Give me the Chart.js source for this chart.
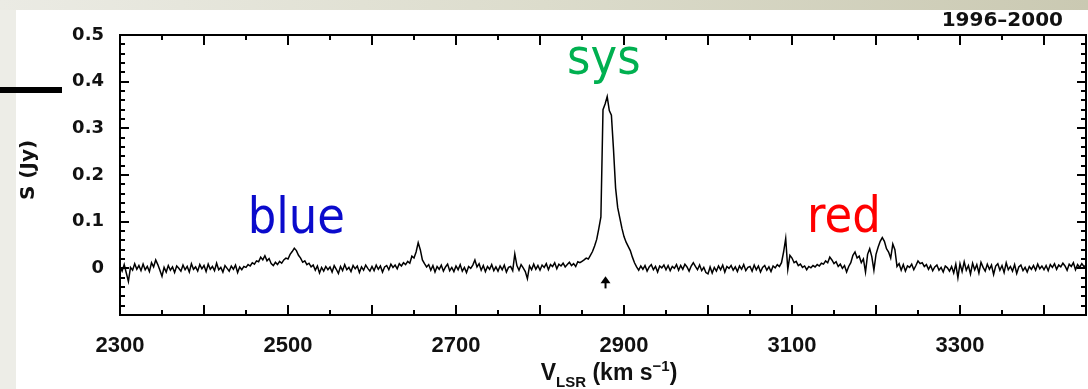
<!DOCTYPE html>
<html>
<head>
<meta charset="utf-8">
<script src="https://cdn.jsdelivr.net/npm/chart.js@4/dist/chart.umd.min.js"></script>
<style>
  html, body { margin: 0; padding: 0; background: #fff; }
  #wrap { width: 1088px; height: 389px; }
</style>
</head>
<body>
<div id="wrap"><canvas id="spectrum" width="1088" height="389"></canvas></div>
<script>
// channel grid of the spectrum (km/s)
const V_START = 2300;
const V_STEP = 2.5;

// flux density S (Jy), one value per channel
const flux = [
  0.004, -0.006, 0.008, -0.010, -0.028, 0.002, -0.004, 0.010, -0.002, 0.006, -0.005, 0.009, -0.003, 0.004, -0.007, 0.012, 0.003, 0.018, 0.008, -0.004,
  -0.017, 0.002, -0.008, 0.006, -0.004, 0.003, -0.009, 0.005, 0.000, -0.006, 0.007, -0.003, 0.004, -0.008, 0.010, -0.002, 0.003, -0.006, 0.008, -0.001,
  0.006, -0.007, 0.009, -0.002, 0.004, -0.005, 0.011, -0.003, 0.002, -0.008, 0.006, 0.000, -0.006, 0.005, -0.002, 0.007, -0.009, 0.003, -0.003, 0.004,
  0.002, 0.008, 0.005, 0.012, 0.009, 0.016, 0.014, 0.024, 0.018, 0.027, 0.016, 0.021, 0.010, 0.006, 0.013, 0.008, 0.015, 0.011, 0.018, 0.022,
  0.020, 0.030, 0.036, 0.043, 0.038, 0.028, 0.022, 0.013, 0.016, 0.008, 0.011, 0.003, 0.007, -0.004, 0.005, -0.010, 0.002, -0.006, 0.004, -0.003,
  0.003, -0.008, 0.006, -0.002, -0.011, 0.004, -0.005, 0.008, -0.003, 0.002, -0.007, 0.006, -0.001, 0.005, -0.009, 0.003, -0.004, 0.007, 0.000, -0.006,
  0.004, -0.005, 0.007, -0.002, 0.005, -0.008, 0.003, 0.006, -0.003, 0.009, 0.002, 0.007, -0.001, 0.010, 0.005, 0.012, 0.008, 0.015, 0.011, 0.026,
  0.022, 0.035, 0.055, 0.040, 0.018, 0.010, 0.003, 0.008, -0.004, 0.006, -0.008, 0.004, -0.002, 0.007, -0.006, 0.003, 0.009, -0.005, 0.002, -0.007,
  0.005, -0.003, 0.008, -0.006, 0.002, -0.009, 0.004, 0.000, 0.007, 0.018, 0.003, 0.010, -0.004, 0.006, -0.007, 0.004, -0.002, 0.008, -0.005, 0.003,
  -0.006, 0.005, -0.003, 0.007, -0.008, 0.002, 0.004, -0.005, 0.031, 0.006, -0.004, 0.008, 0.001, -0.007, -0.022, 0.005, -0.003, 0.009, -0.002, 0.006,
  -0.004, 0.007, 0.002, 0.010, -0.003, 0.008, 0.004, 0.012, -0.001, 0.009, 0.005, 0.011, 0.003, 0.008, 0.013, 0.006, 0.010, 0.004, 0.014, 0.012,
  0.015, 0.018, 0.022, 0.020, 0.028, 0.036, 0.048, 0.062, 0.085, 0.110, 0.340, 0.352, 0.368, 0.338, 0.328, 0.255, 0.172, 0.130, 0.108, 0.086,
  0.068, 0.056, 0.047, 0.038, 0.024, 0.012, 0.003, -0.004, 0.005, -0.002, 0.006, -0.006, 0.003, 0.008, -0.003, 0.004, -0.008, 0.005, 0.001, 0.007,
  -0.003, 0.006, -0.005, 0.004, 0.000, 0.008, -0.004, 0.006, -0.002, 0.009, 0.003, -0.006, 0.005, 0.012, 0.004, -0.003, 0.007, -0.005, 0.002, -0.009,
  -0.012, 0.003, -0.010, 0.002, -0.006, 0.005, -0.003, 0.007, -0.008, 0.004, 0.000, 0.006, -0.004, 0.003, -0.007, 0.005, -0.002, 0.008, -0.005, 0.002,
  0.004, -0.006, 0.007, -0.003, 0.005, -0.008, 0.002, 0.006, -0.004, 0.003, -0.007, 0.005, 0.001, 0.008, 0.004, 0.012, 0.035, 0.064, -0.002, 0.028,
  0.022, 0.012, 0.015, 0.006, 0.009, 0.002, 0.005, -0.003, 0.004, 0.001, 0.006, 0.003, 0.008, 0.005, 0.011, 0.009, 0.016, 0.012, 0.024, 0.018,
  0.010, 0.014, 0.004, 0.009, 0.000, 0.006, -0.008, 0.004, 0.012, 0.028, 0.035, 0.022, 0.026, 0.012, 0.020, -0.008, 0.030, 0.042, 0.025, -0.004,
  0.030, 0.045, 0.058, 0.066, 0.058, 0.042, 0.035, 0.022, 0.052, 0.040, 0.004, 0.010, -0.004, 0.008, -0.006, 0.005, 0.002, 0.009, -0.003, 0.006,
  0.016, 0.010, 0.012, 0.004, 0.008, -0.002, 0.006, -0.005, 0.003, 0.007, -0.004, 0.002, -0.008, 0.005, 0.001, -0.006, 0.004, -0.010, 0.009, -0.020,
  0.010, -0.007, 0.014, -0.004, 0.006, -0.012, 0.011, -0.003, 0.008, -0.010, 0.013, 0.002, -0.006, 0.009, -0.002, 0.007, -0.013, 0.005, 0.010, -0.004,
  0.006, -0.009, 0.012, -0.003, 0.004, -0.006, 0.008, -0.011, 0.003, 0.007, -0.005, 0.002, -0.008, 0.004, -0.002, 0.006, -0.004, 0.009, -0.001, 0.005,
  -0.003, 0.006, -0.005, 0.008, 0.002, 0.010, -0.002, 0.007, 0.003, 0.011, 0.005, -0.004, 0.009, 0.004, 0.012, -0.003, 0.008, 0.002, 0.010, 0.004,
  0.006
];

const xTickLabels = [2300, 2500, 2700, 2900, 3100, 3300];
const yTickLabels = [0, 0.1, 0.2, 0.3, 0.4, 0.5];

// text labels placed in data coordinates
const regionLabels = [
  { text: 'blue', v: 2452, s: 0.075, color: '#0a0acc', align: 'left' },
  { text: 'sys',  v: 2876, s: 0.417, color: '#00b050', align: 'center' },
  { text: 'red',  v: 3118, s: 0.077, color: '#ff0000', align: 'left' }
];
const ARROW_V = 2878;
const EPOCH = '1996\u20132000';

const velocities = flux.map((_, i) => V_START + i * V_STEP);
const points = velocities.map((v, i) => ({ x: v, y: flux[i] }));

const pagePlugin = {
  id: 'page',
  beforeDraw(chart) {
    const ctx = chart.ctx;
    ctx.save();
    ctx.fillStyle = '#fff';
    ctx.fillRect(0, 0, chart.width, chart.height);
    const g = ctx.createLinearGradient(0, 0, chart.width, 0);
    g.addColorStop(0, '#ebebe4');
    g.addColorStop(0.5, '#dcdccc');
    g.addColorStop(1, '#cac9b2');
    ctx.fillStyle = g;
    ctx.fillRect(0, 0, chart.width, 10);
    ctx.fillStyle = '#ededE7';
    ctx.fillRect(0, 10, 16, chart.height - 10);
    ctx.fillStyle = '#000';
    ctx.fillRect(0, 87, 62, 6);
    ctx.restore();
  },
  afterDraw(chart) {
    const ctx = chart.ctx;
    const xs = chart.scales.x, ys = chart.scales.y;
    const { left, right, top, bottom } = chart.chartArea;
    ctx.save();
    ctx.strokeStyle = '#000';
    ctx.lineWidth = 2;
    ctx.strokeRect(left, top, right - left, bottom - top);

    ctx.beginPath();
    for (let v = 2350; v < 3450; v += 50) {
      const px = Math.round(xs.getPixelForValue(v));
      const len = v % 100 === 0 ? 10 : 5;
      ctx.moveTo(px, bottom); ctx.lineTo(px, bottom - len);
      ctx.moveTo(px, top); ctx.lineTo(px, top + len);
    }
    for (let k = -4; k < 25; k++) {
      const py = Math.round(ys.getPixelForValue(k * 0.02));
      const len = k % 5 === 0 ? 9 : 5;
      ctx.moveTo(left, py); ctx.lineTo(left + len, py);
      ctx.moveTo(right, py); ctx.lineTo(right - len, py);
    }
    ctx.stroke();

    // arrow under the systemic line
    const ax = xs.getPixelForValue(ARROW_V);
    const aTop = ys.getPixelForValue(-0.017), aBot = ys.getPixelForValue(-0.043);
    ctx.lineWidth = 2;
    ctx.beginPath();
    ctx.moveTo(ax, aTop + 4); ctx.lineTo(ax, aBot);
    ctx.stroke();
    ctx.beginPath();
    ctx.moveTo(ax, aTop); ctx.lineTo(ax - 5, aTop + 7); ctx.lineTo(ax + 5, aTop + 7);
    ctx.closePath(); ctx.fill();

    // region labels
    ctx.font = "50px 'DejaVu Sans Condensed', 'DejaVu Sans'";
    ctx.textBaseline = 'alphabetic';
    regionLabels.forEach(l => {
      ctx.fillStyle = l.color;
      ctx.textAlign = l.align;
      ctx.fillText(l.text, xs.getPixelForValue(l.v), ys.getPixelForValue(l.s));
    });

    // epoch
    ctx.fillStyle = '#111';
    ctx.textAlign = 'right';
    ctx.font = "bold 20px 'DejaVu Sans'";
    ctx.fillText(EPOCH, 1063, 26);

    // y title
    ctx.save();
    ctx.translate(34, 170);
    ctx.rotate(-Math.PI / 2);
    ctx.textAlign = 'center';
    ctx.font = "bold 20px 'DejaVu Sans'";
    ctx.fillText('S (Jy)', 0, 0);
    ctx.restore();

    // x title with sub/superscripts
    const parts = [
      { t: 'V', f: "bold 23px 'Liberation Sans'", dy: 0 },
      { t: 'LSR', f: "bold 15px 'Liberation Sans'", dy: 7 },
      { t: ' (km s', f: "bold 23px 'Liberation Sans'", dy: 0 },
      { t: '\u22121', f: "bold 15px 'Liberation Sans'", dy: -9 },
      { t: ')', f: "bold 23px 'Liberation Sans'", dy: 0 }
    ];
    let w = 0;
    parts.forEach(p => { ctx.font = p.f; w += ctx.measureText(p.t).width; });
    let x = 609 - w / 2;
    ctx.textAlign = 'left';
    parts.forEach(p => {
      ctx.font = p.f;
      ctx.fillText(p.t, x, 380 + p.dy);
      x += ctx.measureText(p.t).width;
    });
    ctx.restore();
  }
};

new Chart(document.getElementById('spectrum'), {
  type: 'line',
  data: {
    datasets: [{
      data: points,
      borderColor: '#000',
      borderWidth: 1.5,
      pointRadius: 0,
      tension: 0,
      fill: false
    }]
  },
  options: {
    responsive: false,
    animation: false,
    devicePixelRatio: 1,
    layout: { padding: { top: 35, right: 2, left: 0, bottom: 0 } },
    plugins: { legend: { display: false }, tooltip: { enabled: false } },
    scales: {
      x: {
        type: 'linear',
        min: 2300,
        max: 3450,
        grid: { display: false, drawTicks: false },
        border: { display: false },
        afterBuildTicks: s => { s.ticks = xTickLabels.map(v => ({ value: v })); },
        afterFit: s => { s.height = 74; },
        ticks: {
          padding: 18,
          color: '#111',
          maxRotation: 0,
          autoSkip: false,
          font: { family: 'Liberation Sans', weight: 'bold', size: 22 },
          callback: v => String(v)
        }
      },
      y: {
        min: -0.1,
        max: 0.5,
        grid: { display: false, drawTicks: false },
        border: { display: false },
        afterBuildTicks: s => { s.ticks = yTickLabels.map(v => ({ value: v })); },
        afterFit: s => { s.width = 120; },
        ticks: {
          padding: 16,
          color: '#111',
          font: { family: 'DejaVu Sans', weight: 'bold', size: 18 },
          callback: v => v === 0 ? '0' : v.toFixed(1)
        }
      }
    }
  },
  plugins: [pagePlugin]
});
</script>
</body>
</html>
